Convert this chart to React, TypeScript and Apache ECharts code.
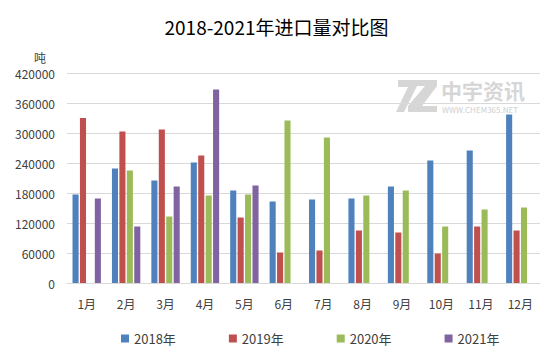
import React, { useEffect, useRef } from "react";
import * as echarts from "echarts";

const categories = ["1月", "2月", "3月", "4月", "5月", "6月", "7月", "8月", "9月", "10月", "11月", "12月"];
const seriesNames = ["2018年", "2019年", "2020年", "2021年"];
const v2018 = [177000, 229000, 205000, 241000, 185000, 163000, 167000, 169000, 193000, 245000, 265000, 337000];
const v2019 = [330000, 303000, 307000, 255000, 131000, 61000, 65000, 105000, 101000, 59000, 113000, 105000];
const v2020 = [null, 225000, 133000, 175000, 177000, 325000, 291000, 175000, 185000, 113000, 147000, 151000];
const v2021 = [169000, 113000, 193000, 387000, 195000, null, null, null, null, null, null, null];
const colors = ["#4F81BD", "#C0504D", "#9BBB59", "#8064A2"];

const FONT = "'Noto Sans CJK SC', 'Microsoft YaHei', sans-serif";

export default function App() {
  const ref = useRef<HTMLDivElement>(null);
  useEffect(() => {
    if (!ref.current) return;
    const chart = echarts.init(ref.current, undefined, { renderer: "svg" });
    const data = [v2018, v2019, v2020, v2021];
    chart.setOption({
      animation: false,
      backgroundColor: "#fff",
      color: colors,
      textStyle: { fontFamily: FONT },
      title: {
        text: "2018-2021年进口量对比图",
        left: "center",
        top: 12,
        textStyle: { fontSize: 19, fontWeight: "normal", color: "#000", fontFamily: FONT },
      },
      graphic: [
        {
          type: "polygon",
          shape: { points: [[398, 80], [420, 80], [404, 112], [396, 112], [408, 87], [398, 87]] },
          style: { fill: "#d6d6d6" },
          silent: true,
        },
        {
          type: "polygon",
          shape: { points: [[416, 80], [437, 80], [437, 86], [422, 106], [437, 106], [437, 112], [408, 112], [408, 106], [425, 86], [416, 86]] },
          style: { fill: "#d6d6d6" },
          silent: true,
        },
        {
          type: "text",
          left: 441,
          top: 79,
          style: { text: "中宇资讯", fontSize: 21, lineHeight: 21, fontWeight: "bold", fill: "#d6d6d6", fontFamily: FONT },
          silent: true,
        },
        {
          type: "text",
          left: 442,
          top: 105,
          style: { text: "WWW.CHEM365.NET", fontSize: 8, lineHeight: 8, fill: "#cfcfcf", fontFamily: FONT },
          silent: true,
        },
      ],
      legend: {
        data: seriesNames,
        bottom: 11,
        left: 116,
        itemWidth: 8,
        itemHeight: 8,
        itemGap: 53,
        icon: "rect",
        textStyle: { fontSize: 13, color: "#404040", fontFamily: FONT },
      },
      grid: { left: 67, right: 13, top: 73, bottom: 78 },
      xAxis: {
        type: "category",
        data: categories,
        axisTick: { show: false },
        axisLine: { lineStyle: { color: "#d9d9d9" } },
        axisLabel: { color: "#404040", fontSize: 12, margin: 14, fontFamily: FONT },
      },
      yAxis: {
        type: "value",
        min: 0,
        max: 420000,
        interval: 60000,
        name: "吨",
        nameLocation: "end",
        nameGap: 10,
        nameTextStyle: { color: "#404040", fontSize: 12, align: "right", padding: [0, 21, 0, 0], fontFamily: FONT },
        axisLine: { show: false },
        axisTick: { show: false },
        splitLine: { lineStyle: { color: "#d9d9d9" } },
        axisLabel: { color: "#404040", fontSize: 12, margin: 12, fontFamily: FONT, formatter: (v: number) => String(v) },
      },
      series: seriesNames.map((name, i) => ({
        name,
        type: "bar",
        data: data[i],
        barGap: "22%",
        barCategoryGap: "28%",
      })),
    });
    return () => chart.dispose();
  }, []);
  return <div ref={ref} style={{ position: "fixed", left: 0, top: 0, width: 553, height: 361 }} />;
}
